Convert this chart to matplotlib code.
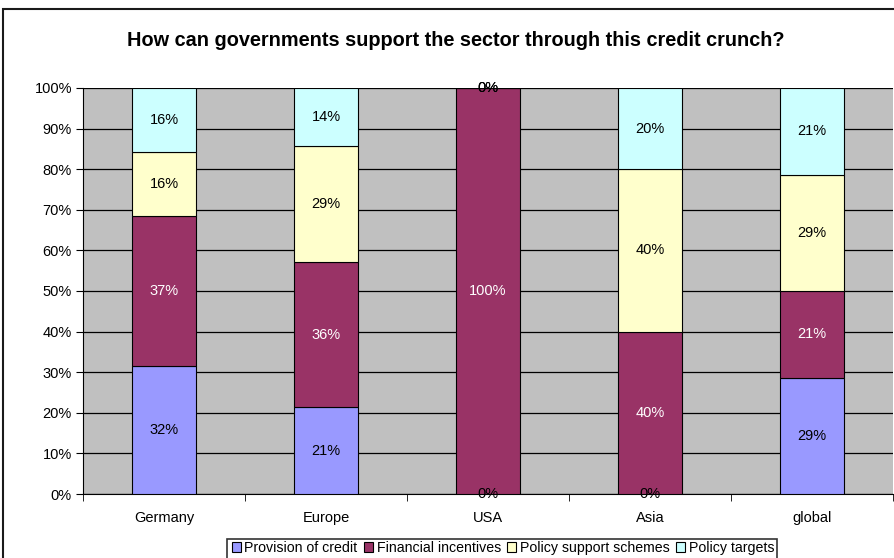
import numpy as np
import matplotlib.pyplot as plt
from matplotlib.patches import Rectangle, Patch

plt.rcParams['font.family'] = ['Liberation Sans', 'DejaVu Sans']

regions = ['Germany', 'Europe', 'USA', 'Asia', 'global']
series = ['Provision of credit', 'Financial incentives',
          'Policy support schemes', 'Policy targets']
# shares in percent
provision = [31.6, 21.4, 0.0, 0.0, 28.6]
incentives = [36.8, 35.7, 100.0, 40.0, 21.4]
schemes = [15.8, 28.6, 0.0, 40.0, 28.6]
targets = [15.8, 14.3, 0.0, 20.0, 21.4]
labels = [
    ['32%', '21%', '0%', '0%', '29%'],
    ['37%', '36%', '100%', '40%', '21%'],
    ['16%', '29%', '0%', '40%', '29%'],
    ['16%', '14%', '0%', '20%', '21%'],
]
colors = ['#9999FF', '#993366', '#FFFFCC', '#CCFFFF']
text_colors = ['black', 'white', 'black', 'black']

W, H = 894, 558
fig = plt.figure(figsize=(W / 100, H / 100), dpi=100)

# outer chart border (cut off on the right and bottom)
fig.patches.append(Rectangle((3 / W, -0.1), 1.2, (H - 9) / H + 0.1,
                             transform=fig.transFigure, fill=False,
                             edgecolor='#1a1a1a', linewidth=1.5))

ax = fig.add_axes([83 / W, (H - 494) / H, 810 / W, (494 - 88) / H])
ax.set_facecolor('#C0C0C0')

x = np.arange(len(regions))
bottom = np.zeros(len(regions))
for vals, col, tc, labs in zip([provision, incentives, schemes, targets],
                               colors, text_colors, labels):
    vals = np.array(vals)
    ax.bar(x, vals, 0.39, bottom=bottom, color=col, edgecolor='black',
           linewidth=0.8, zorder=3)
    for xi, b, v, lab in zip(x, bottom, vals, labs):
        ax.text(xi, b + v / 2, lab, ha='center', va='center', color=tc,
                fontsize=10.5, zorder=4)
    bottom += vals

ax.set_xlim(-0.5, len(regions) - 0.5)
ax.set_ylim(0, 100)
ax.set_yticks(np.arange(0, 101, 10))
ax.set_yticklabels(['%d%%' % v for v in range(0, 101, 10)], fontsize=10.5)
ax.yaxis.grid(True, color='black', linewidth=0.9, zorder=1)
ax.set_axisbelow(True)

ax.set_xticks(x)
ax.set_xticklabels(regions, fontsize=10.5)
ax.tick_params(axis='x', length=0, pad=12)
ax.set_xticks(np.arange(-0.5, len(regions)), minor=True)
ax.tick_params(axis='x', which='minor', length=5, direction='out')
ax.tick_params(axis='y', length=5, direction='out', pad=3)

for s in ['top', 'right']:
    ax.spines[s].set_visible(False)
ax.spines['left'].set_color('black')
ax.spines['bottom'].set_color('black')

fig.text(456 / W, 1 - 40 / H,
         'How can governments support the sector through this credit crunch?',
         ha='center', va='center', fontsize=14.3, fontweight='bold')

# legend with a box cut off at the bottom
fig.patches.append(Rectangle((227 / W, -0.1), (777 - 227) / W,
                             (H - 539) / H + 0.1, transform=fig.transFigure,
                             fill=False, edgecolor='#333333', linewidth=1.2))
handles = [Patch(facecolor=c, edgecolor='black', linewidth=0.8) for c in colors]
fig.legend(handles, series, loc='center', bbox_to_anchor=(503 / W, 1 - 548 / H),
           ncol=4, frameon=False, fontsize=10.2, handlelength=0.65,
           handleheight=0.65, handletextpad=0.25, columnspacing=0.45,
           borderpad=0)

fig.savefig('out.png', dpi=100)
